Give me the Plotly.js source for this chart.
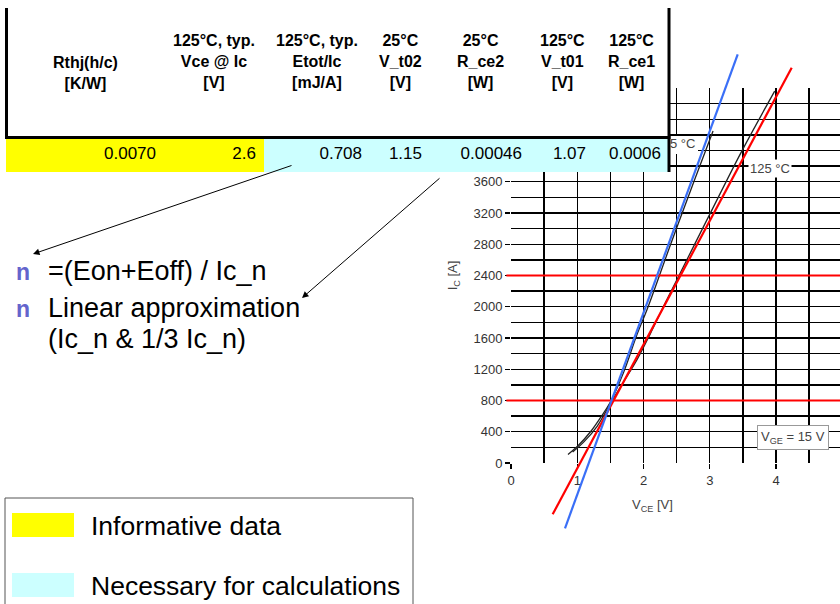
<!DOCTYPE html>
<html>
<head>
<meta charset="utf-8">
<script src="https://cdn.plot.ly/plotly-3.0.1.min.js"></script>
<style>html,body{margin:0;padding:0;background:#fff;}#chart{width:840px;height:604px;}</style>
</head>
<body>
<div id="chart"></div>
<script>
// ---------------- data ----------------
const headerLine1 = ['', '125°C, typ.', '125°C, typ.', '25°C', '25°C', '125°C', '125°C'];
const headerLine2 = ['Rthj(h/c)', 'Vce @ Ic', 'Etot/Ic', 'V_t02', 'R_ce2', 'V_t01', 'R_ce1'];
const headerUnits = ['[K/W]', '[V]', '[mJ/A]', '[V]', '[W]', '[V]', '[W]'];
const rowValues = ['0.0070', '2.6', '0.708', '1.15', '0.00046', '1.07', '0.0006'];
const rowKinds = ['info', 'info', 'calc', 'calc', 'calc', 'calc', 'calc'];

const legendLabels = ['Informative data', 'Necessary for calculations'];
const bulletLines = ['=(Eon+Eoff) / Ic_n', 'Linear approximation', '(Ic_n & 1/3 Ic_n)'];

// datasheet output characteristic curves (V_GE = 15 V)
const vce25 = [0.86, 1.0, 1.2, 1.35, 1.5, 1.7, 1.9, 2.07, 2.41, 2.76, 3.05];
const ic25 = [110, 210, 400, 580, 780, 1160, 1640, 2000, 2800, 3600, 4250];
const vce125 = [0.93, 1.1, 1.3, 1.5, 1.7, 1.9, 2.1, 2.3, 2.5, 2.98, 3.47, 3.98];
const ic125 = [140, 270, 470, 760, 1040, 1320, 1650, 2000, 2340, 3150, 3970, 4760];
// linear approximations
const approx25V = [0.815, 3.422];
const approx25I = [-836, 5231];
const approx125V = [0.629, 4.237];
const approx125I = [-657, 5060];
// reference currents Ic_n and 1/3 Ic_n
const refCurrents = [2400, 800];
const refSpanV = [-0.07, 4.97];

const xTicks = [0, 1, 2, 3, 4, 5];
const yTicks = [0, 400, 800, 1200, 1600, 2000, 2400, 2800, 3200, 3600];
const yMax = 4800;

// ---------------- layout constants ----------------
const W = 840, H = 604;
const X0 = 511, PXV = 66.25;      // pixel of 0 V, px per volt
const Y0 = 463, PXA = 0.078125;   // pixel of 0 A, px per amp
const px = x => x / W;
const py = y => 1 - y / H;
const toV = x => (x - X0) / PXV;
const toA = y => (Y0 - y) / PXA;
const FONT = 'Liberation Sans, Arial, sans-serif';
const YELLOW = '#FFFF00', CYAN = '#CCFFFF';
const GRID = '#000';

const colWidths = [158, 100, 106, 60, 100, 64, 75];
const tableLeft = 6, tableTop = 8, headerH = 130, rowH = 34;
const tableRight = tableLeft + colWidths.reduce((a, b) => a + b, 0);
const colCenters = colWidths.map((w, i) => tableLeft + colWidths.slice(0, i).reduce((a, b) => a + b, 0) + w / 2);

// ---------------- traces ----------------
const traces = [
  {type: 'scatter', mode: 'lines', x: vce25, y: ic25, xaxis: 'x', yaxis: 'y',
   line: {color: '#222', width: 1.3, shape: 'spline'}, hoverinfo: 'skip', showlegend: false},
  {type: 'scatter', mode: 'lines', x: vce125, y: ic125, xaxis: 'x', yaxis: 'y',
   line: {color: '#222', width: 1.3, shape: 'spline'}, hoverinfo: 'skip', showlegend: false},
  {type: 'scatter', mode: 'text', x: [toV(679)], y: [toA(145)], text: ['25 °C'], xaxis: 'x', yaxis: 'y',
   textfont: {family: FONT, size: 13, color: '#444'}, hoverinfo: 'skip', showlegend: false},
  // overlay subplot for lines that leave the grid
  {type: 'scatter', mode: 'lines', x: refSpanV, y: [refCurrents[0], refCurrents[0]], xaxis: 'x2', yaxis: 'y2',
   line: {color: '#FF0000', width: 2.2}, hoverinfo: 'skip', showlegend: false},
  {type: 'scatter', mode: 'lines', x: refSpanV, y: [refCurrents[1], refCurrents[1]], xaxis: 'x2', yaxis: 'y2',
   line: {color: '#FF0000', width: 2.2}, hoverinfo: 'skip', showlegend: false},
  {type: 'scatter', mode: 'lines', x: approx125V, y: approx125I, xaxis: 'x2', yaxis: 'y2',
   line: {color: '#FF0000', width: 2.2}, hoverinfo: 'skip', showlegend: false},
  {type: 'scatter', mode: 'lines', x: approx25V, y: approx25I, xaxis: 'x2', yaxis: 'y2',
   line: {color: '#3A6FF7', width: 2.2}, hoverinfo: 'skip', showlegend: false},
  {type: 'table',
   domain: {x: [px(tableLeft), px(tableRight)], y: [py(tableTop + headerH + rowH), py(tableTop)]},
   columnwidth: colWidths,
   header: {values: headerLine2.map(() => ' '), align: 'center', height: headerH,
            fill: {color: 'white'}, line: {width: 0, color: 'white'},
            font: {family: FONT, size: 16, color: 'black'}},
   cells: {values: rowValues.map(v => [v]), align: 'right', height: rowH,
           fill: {color: rowKinds.map(k => [k === 'info' ? YELLOW : CYAN])},
           line: {width: 0, color: 'white'},
           font: {family: FONT, size: 17, color: 'black'}}}
];

// ---------------- layout ----------------
const gridAxis = {showgrid: true, gridcolor: GRID, gridwidth: 1.3, zeroline: false, showline: false,
  ticks: 'outside', ticklen: 5, tickcolor: GRID, tickwidth: 1.3, tickfont: {family: FONT, size: 13, color: '#333'}};

const shapes = [
  // white background behind the 25 °C label
  {type: 'rect', layer: 'between', xref: 'x', yref: 'y', x0: toV(660), x1: toV(698), y0: toA(154), y1: toA(136),
   fillcolor: 'white', line: {width: 0}},
  // table borders
  {type: 'line', xref: 'paper', yref: 'paper', x0: px(tableLeft + 0.5), x1: px(tableLeft + 0.5), y0: py(tableTop), y1: py(tableTop + headerH), line: {color: 'black', width: 3}},
  {type: 'line', xref: 'paper', yref: 'paper', x0: px(tableLeft - 1), x1: px(tableRight + 1.5), y0: py(tableTop + headerH - 0.5), y1: py(tableTop + headerH - 0.5), line: {color: 'black', width: 3}},
  {type: 'line', xref: 'paper', yref: 'paper', x0: px(tableRight), x1: px(tableRight), y0: py(tableTop), y1: py(tableTop + headerH + rowH), line: {color: 'black', width: 3}},
  // legend box
  {type: 'rect', xref: 'paper', yref: 'paper', x0: px(5), x1: px(413), y0: py(498), y1: py(612), line: {color: '#555', width: 1}, fillcolor: 'rgba(0,0,0,0)'},
  {type: 'rect', xref: 'paper', yref: 'paper', x0: px(12), x1: px(74), y0: py(513), y1: py(537), line: {width: 0}, fillcolor: YELLOW},
  {type: 'rect', xref: 'paper', yref: 'paper', x0: px(12), x1: px(74), y0: py(573), y1: py(597), line: {width: 0}, fillcolor: CYAN}
];

const headerAnnotations = headerLine2.map((l2, i) => {
  const lines = (headerLine1[i] ? [headerLine1[i]] : []).concat([l2, headerUnits[i]]);
  return {xref: 'paper', yref: 'paper', x: px(colCenters[i]), y: py(headerLine1[i] ? 62 : 72.5),
    text: lines.map(s => '<b>' + s + '</b>').join('<br>'), showarrow: false, align: 'center',
    xanchor: 'center', yanchor: 'middle', font: {family: FONT, size: 16, color: 'black'}};
});

const annotations = headerAnnotations.concat([
  {xref: 'x', yref: 'paper', x: toV(652), y: py(505), text: 'V<sub>CE</sub> [V]', showarrow: false,
   font: {family: FONT, size: 13, color: '#444'}, xanchor: 'center', yanchor: 'middle'},
  {xref: 'x', yref: 'y', x: toV(770), y: toA(168), text: '125 °C', showarrow: false, bgcolor: 'white', borderpad: 1,
   font: {family: FONT, size: 13, color: '#444'}},
  {xref: 'x', yref: 'y', x: toV(792.5), y: toA(437), text: 'V<sub>GE</sub> = 15 V', showarrow: false, bgcolor: 'white',
   bordercolor: '#999', borderwidth: 1, borderpad: 3, font: {family: FONT, size: 13, color: '#444'}},
  // bullets
  {xref: 'paper', yref: 'paper', x: px(14), y: py(272), text: '<b>n</b>', showarrow: false, xanchor: 'left', yanchor: 'middle',
   font: {family: FONT, size: 23, color: '#6464CC'}},
  {xref: 'paper', yref: 'paper', x: px(14), y: py(309), text: '<b>n</b>', showarrow: false, xanchor: 'left', yanchor: 'middle',
   font: {family: FONT, size: 23, color: '#6464CC'}},
  {xref: 'paper', yref: 'paper', x: px(46), y: py(271), text: bulletLines[0], showarrow: false, xanchor: 'left', yanchor: 'middle',
   font: {family: FONT, size: 27, color: 'black'}},
  {xref: 'paper', yref: 'paper', x: px(46), y: py(308), text: bulletLines[1], showarrow: false, xanchor: 'left', yanchor: 'middle',
   font: {family: FONT, size: 27, color: 'black'}},
  {xref: 'paper', yref: 'paper', x: px(46), y: py(339), text: bulletLines[2], showarrow: false, xanchor: 'left', yanchor: 'middle',
   font: {family: FONT, size: 27, color: 'black'}},
  // arrows
  {xref: 'paper', yref: 'paper', x: px(33), y: py(254), ax: 260, ay: -89, axref: 'pixel', ayref: 'pixel', text: '',
   showarrow: true, arrowhead: 2, arrowsize: 1.3, arrowwidth: 1, arrowcolor: 'black', standoff: 0},
  {xref: 'paper', yref: 'paper', x: px(302), y: py(298), ax: 139, ay: -121, axref: 'pixel', ayref: 'pixel', text: '',
   showarrow: true, arrowhead: 2, arrowsize: 1.3, arrowwidth: 1, arrowcolor: 'black', standoff: 0},
  // legend texts
  {xref: 'paper', yref: 'paper', x: px(89), y: py(526), text: legendLabels[0], showarrow: false, xanchor: 'left', yanchor: 'middle',
   font: {family: FONT, size: 26.5, color: 'black'}},
  {xref: 'paper', yref: 'paper', x: px(89), y: py(586), text: legendLabels[1], showarrow: false, xanchor: 'left', yanchor: 'middle',
   font: {family: FONT, size: 26.5, color: 'black'}}
]);

const layout = {
  width: W, height: H, margin: {l: 0, r: 0, t: 0, b: 0},
  paper_bgcolor: 'white', plot_bgcolor: 'rgba(0,0,0,0)', showlegend: false,
  xaxis: Object.assign({}, gridAxis, {domain: [px(X0), 1], range: [0, toV(W)], tickvals: xTicks,
    minor: {dtick: 0.5, showgrid: true, gridcolor: GRID, gridwidth: 1.3, ticks: ''}, anchor: 'y'}),
  yaxis: Object.assign({}, gridAxis, {domain: [py(Y0), py(Y0 - yMax * PXA)], range: [0, yMax], tickvals: yTicks,
    minor: {dtick: 200, showgrid: true, gridcolor: GRID, gridwidth: 1.3, ticks: ''}, anchor: 'x',
    title: {text: 'I<sub>C</sub> [A]', font: {family: FONT, size: 13, color: '#444'}, standoff: 12}}),
  xaxis2: {domain: [px(440), 1], range: [toV(440), toV(W)], visible: false, anchor: 'y2', fixedrange: true},
  yaxis2: {domain: [py(560), py(40)], range: [toA(560), toA(40)], visible: false, anchor: 'x2', fixedrange: true},
  shapes: shapes,
  annotations: annotations
};

Plotly.newPlot('chart', traces, layout, {staticPlot: true, displayModeBar: false});
</script>
</body>
</html>
